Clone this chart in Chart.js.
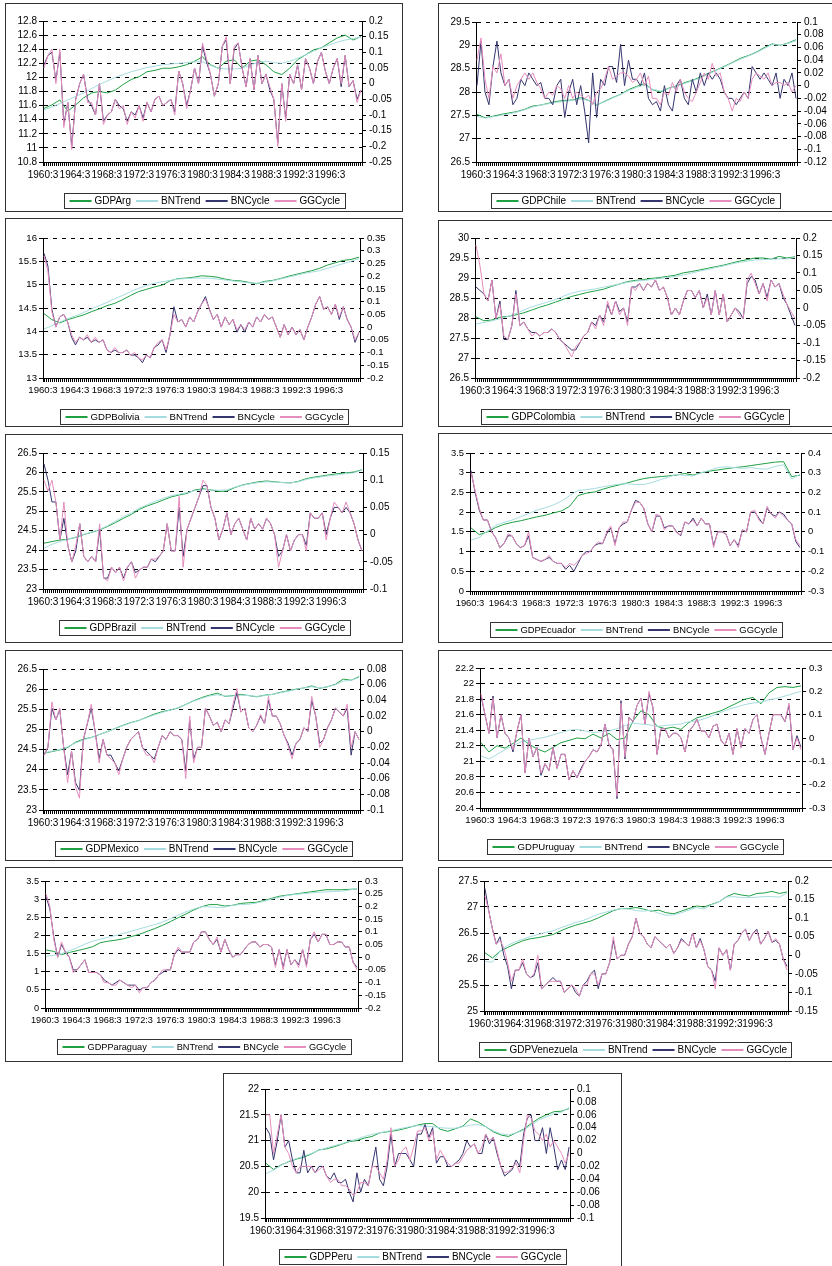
<!DOCTYPE html>
<html>
<head>
<meta charset="utf-8">
<script src="https://cdn.jsdelivr.net/npm/chart.js@4.4.1/dist/chart.umd.min.js"></script>
<style>
  body { margin: 0; background: #fff; width: 832px; height: 1266px; position: relative; overflow: hidden; }
  .panel { position: absolute; border: 1px solid #333; box-sizing: border-box; }
  .panel canvas { position: absolute; left: -1px; top: -1px; }
</style>
</head>
<body>
<script>
// Quarterly series, 1960:3 onwards (160 quarters)
const nQuarters = 160;
const tickEvery = 16;
const tickLabels = ['1960:3', '1964:3', '1968:3', '1972:3', '1976:3', '1980:3', '1984:3', '1988:3', '1992:3', '1996:3'];
const seriesNames = ['BNTrend', 'BNCycle', 'GGCycle'];

// Argentina
const argGDP = [11.56,11.61,11.68,11.52,11.61,11.71,11.78,11.8,11.78,11.82,11.9,11.97,12.01,12.08,12.1,12.13,12.13,12.15,12.18,12.23,12.29,12.18,12.13,12.23,12.25,12.13,12.23,12.25,12.18,12.08,12.04,12.13,12.25,12.32,12.39,12.42,12.49,12.56,12.6,12.53,12.58];
const argTrend = [11.54,11.58,11.63,11.68,11.73,11.78,11.84,11.9,11.95,12.0,12.04,12.08,12.11,12.14,12.16,12.18,12.19,12.2,12.21,12.22,12.22,12.17,12.13,12.12,12.12,12.13,12.18,12.21,12.23,12.21,12.2,12.23,12.27,12.32,12.37,12.42,12.46,12.5,12.53,12.55,12.57];
const argBN = [0.06,0.09,0.1,0.01,0.1,-0.13,-0.06,-0.2,-0.05,0.0,0.03,-0.05,-0.07,-0.1,0.0,-0.12,-0.1,-0.09,-0.05,-0.07,-0.08,-0.12,-0.09,-0.1,-0.07,-0.11,-0.06,-0.09,-0.05,-0.04,-0.07,-0.06,-0.05,-0.09,0.04,0.0,-0.07,-0.02,0.05,0.0,0.12,0.07,0.03,-0.04,0.0,0.12,0.14,0.0,0.11,0.13,0.05,-0.01,0.08,-0.02,0.09,0.0,0.03,-0.02,-0.05,-0.19,0.0,-0.11,0.03,0.0,0.06,-0.02,0.08,0.05,0.0,0.07,0.1,0.04,0.0,0.05,0.08,-0.01,0.09,-0.01,0.01,-0.05,-0.02];
const argGG = [0.05,0.09,0.11,0.0,0.11,-0.14,-0.06,-0.21,-0.05,0.0,0.03,-0.06,-0.06,-0.1,0.0,-0.13,-0.1,-0.09,-0.05,-0.08,-0.07,-0.13,-0.09,-0.11,-0.07,-0.12,-0.06,-0.09,-0.05,-0.04,-0.07,-0.06,-0.05,-0.1,0.04,0.0,-0.08,-0.02,0.05,0.0,0.13,0.08,0.03,-0.04,0.0,0.12,0.15,0.0,0.12,0.13,0.05,-0.01,0.08,-0.02,0.09,0.0,0.03,-0.01,-0.05,-0.2,0.0,-0.12,0.03,0.0,0.06,-0.02,0.08,0.05,0.0,0.07,0.1,0.04,0.0,0.05,0.08,0.0,0.09,-0.01,0.01,-0.06,-0.02];
const argLeft = [10.8, 12.8, 0.2];
const argRight = [-0.25, 0.2, 0.05];

// Chile
const chiGDP = [27.52,27.45,27.48,27.52,27.55,27.58,27.63,27.7,27.72,27.76,27.8,27.82,27.83,27.88,27.82,27.72,27.8,27.88,27.95,28.05,28.12,28.18,28.05,28.0,28.08,28.13,28.2,28.25,28.32,28.4,28.47,28.55,28.63,28.72,28.78,28.85,28.95,29.03,29.0,29.05,29.12];
const chiTrend = [27.48,27.44,27.47,27.5,27.53,27.57,27.62,27.68,27.72,27.75,27.78,27.8,27.82,27.85,27.82,27.73,27.79,27.87,27.95,28.03,28.1,28.15,28.06,28.02,28.07,28.12,28.18,28.24,28.3,28.38,28.46,28.54,28.62,28.7,28.77,28.84,28.93,29.02,29.0,29.04,29.1];
const chiBN = [0.0,0.07,-0.01,-0.03,0.03,0.07,0.02,0.0,0.01,-0.03,-0.02,0.01,0.0,0.02,0.01,0.0,0.005,-0.02,-0.02,-0.03,0.0,0.01,-0.05,-0.01,0.01,-0.03,0.0,-0.04,-0.09,0.02,-0.05,0.01,0.0,0.03,0.03,0.005,0.065,0.0,0.04,0.01,0.01,0.0,0.02,-0.02,-0.03,-0.025,-0.04,0.0,-0.03,-0.04,0.0,0.01,-0.02,-0.03,0.01,-0.01,0.02,0.0,0.02,0.01,0.02,0.01,-0.01,-0.02,-0.02,-0.03,-0.02,-0.01,-0.02,0.03,0.02,0.01,0.02,0.01,0.0,0.02,-0.02,0.01,0.0,0.02,-0.02];
const chiGG = [0.04,0.075,0.01,-0.02,0.03,0.02,0.05,0.0,0.01,-0.02,0.0,0.01,0.02,0.01,0.02,0.005,-0.005,-0.02,-0.01,-0.015,0.0,-0.005,-0.02,0.0,-0.02,-0.01,-0.015,-0.02,-0.015,-0.03,-0.01,-0.005,0.01,0.03,0.01,0.015,0.02,0.02,0.015,0.005,0.01,0.02,0.0,0.015,-0.02,-0.02,-0.03,-0.01,-0.015,0.005,-0.01,0.01,-0.01,-0.02,-0.025,-0.01,0.005,0.02,0.01,0.035,0.015,0.02,-0.01,-0.02,-0.04,-0.02,-0.025,-0.01,-0.02,0.01,0.02,0.015,0.01,0.02,0.0,0.005,0.005,0.0,0.005,-0.01,0.0];
const chiLeft = [26.5, 29.5, 0.5];
const chiRight = [-0.12, 0.1, 0.02];

// Bolivia
const bolGDP = [14.38,14.25,14.18,14.25,14.3,14.35,14.42,14.48,14.55,14.6,14.68,14.77,14.85,14.9,14.95,14.99,15.08,15.13,15.14,15.16,15.19,15.18,15.16,15.12,15.09,15.08,15.05,15.02,15.07,15.09,15.13,15.18,15.22,15.26,15.3,15.35,15.42,15.47,15.52,15.54,15.59];
const bolTrend = [14.05,14.12,14.2,14.27,14.33,14.4,14.48,14.55,14.62,14.7,14.77,14.85,14.92,14.98,15.03,15.06,15.09,15.12,15.13,15.14,15.14,15.14,15.12,15.1,15.08,15.06,15.04,15.03,15.05,15.08,15.12,15.16,15.2,15.24,15.27,15.3,15.35,15.4,15.45,15.5,15.56];
const bolBN = [0.29,0.24,0.07,0.0,0.04,0.05,0.02,-0.04,-0.07,-0.04,-0.05,-0.04,-0.06,-0.05,-0.06,-0.05,-0.09,-0.1,-0.09,-0.1,-0.1,-0.09,-0.11,-0.11,-0.12,-0.14,-0.11,-0.12,-0.08,-0.07,-0.05,-0.1,-0.03,0.08,0.02,0.03,0.0,0.04,0.02,0.06,0.09,0.12,0.07,0.03,0.05,0.0,0.04,0.01,0.03,-0.02,0.01,-0.02,0.02,0.0,0.04,0.02,0.05,0.03,0.04,0.0,-0.04,0.01,-0.03,0.0,-0.03,-0.01,-0.05,0.0,0.04,0.09,0.12,0.07,0.08,0.05,0.09,0.03,0.08,0.03,0.0,-0.06,-0.02];
const bolGG = [0.28,0.22,0.06,0.0,0.04,0.05,0.02,-0.03,-0.06,-0.04,-0.05,-0.03,-0.06,-0.04,-0.06,-0.05,-0.09,-0.1,-0.08,-0.1,-0.1,-0.09,-0.11,-0.1,-0.12,-0.13,-0.11,-0.12,-0.08,-0.06,-0.05,-0.09,-0.03,0.05,0.02,0.03,0.0,0.04,0.02,0.06,0.09,0.11,0.07,0.03,0.05,0.0,0.04,0.01,0.03,-0.01,0.01,-0.01,0.02,0.0,0.04,0.02,0.05,0.03,0.04,0.0,-0.04,0.01,-0.03,0.0,-0.03,-0.01,-0.05,0.0,0.04,0.09,0.12,0.07,0.08,0.05,0.09,0.04,0.08,0.03,0.0,-0.05,-0.02];
const bolLeft = [13, 16, 0.5];
const bolRight = [-0.2, 0.35, 0.05];

// Colombia
const colGDP = [28.03,27.93,27.95,28.02,28.04,28.08,28.13,28.2,28.27,28.33,28.4,28.47,28.54,28.59,28.64,28.68,28.72,28.79,28.85,28.91,28.94,28.96,28.99,29.01,29.04,29.07,29.13,29.16,29.2,29.24,29.28,29.32,29.37,29.42,29.46,29.5,29.5,29.47,29.54,29.5,29.53];
const colTrend = [27.85,27.89,27.93,27.98,28.04,28.11,28.2,28.28,28.34,28.4,28.46,28.55,28.62,28.67,28.7,28.73,28.77,28.81,28.85,28.89,28.92,28.94,28.96,28.99,29.01,29.04,29.08,29.12,29.17,29.21,29.26,29.3,29.35,29.39,29.42,29.45,29.46,29.47,29.48,29.48,29.51];
const colBN = [0.06,0.05,0.04,0.02,0.08,-0.03,0.02,-0.09,-0.09,-0.05,0.05,-0.05,-0.04,-0.06,-0.07,-0.07,-0.08,-0.07,-0.07,-0.06,-0.07,-0.09,-0.1,-0.11,-0.12,-0.12,-0.1,-0.08,-0.07,-0.04,-0.05,-0.02,-0.04,0.01,-0.02,0.02,-0.01,0.0,-0.04,0.06,0.06,0.07,0.05,0.07,0.06,0.08,0.05,0.06,0.03,-0.02,0.0,-0.02,0.02,0.05,0.05,0.03,0.05,0.0,0.04,-0.02,0.05,-0.02,0.04,-0.04,-0.02,0.0,-0.01,-0.03,0.07,0.09,0.08,0.04,0.07,0.03,0.08,0.06,0.07,0.03,0.01,-0.02,-0.05];
const colGG = [0.18,0.12,0.04,0.02,0.08,-0.03,0.01,-0.08,-0.09,-0.05,0.04,-0.05,-0.04,-0.06,-0.08,-0.07,-0.08,-0.07,-0.07,-0.06,-0.07,-0.09,-0.1,-0.12,-0.14,-0.11,-0.1,-0.08,-0.07,-0.04,-0.06,-0.02,-0.05,0.02,-0.02,0.02,-0.02,0.0,-0.05,0.06,0.05,0.07,0.05,0.07,0.06,0.08,0.05,0.06,0.03,-0.02,0.0,-0.02,0.02,0.05,0.05,0.03,0.05,0.0,0.03,-0.02,0.05,-0.02,0.04,-0.04,-0.02,0.0,-0.02,-0.03,0.08,0.1,0.07,0.04,0.07,0.02,0.08,0.06,0.07,0.04,0.01,-0.01,-0.03];
const colLeft = [26.5, 30, 0.5];
const colRight = [-0.2, 0.2, 0.05];

// Brazil
const braGDP = [24.18,24.22,24.26,24.28,24.33,24.4,24.46,24.52,24.61,24.71,24.82,24.92,25.05,25.14,25.21,25.29,25.37,25.42,25.46,25.55,25.58,25.55,25.51,25.52,25.61,25.68,25.72,25.76,25.78,25.76,25.74,25.73,25.77,25.84,25.88,25.91,25.94,25.97,25.99,26.01,26.07];
const braTrend = [24.05,24.15,24.22,24.28,24.34,24.4,24.47,24.53,24.63,24.75,24.86,24.96,25.08,25.17,25.26,25.33,25.4,25.44,25.48,25.53,25.56,25.55,25.54,25.55,25.62,25.67,25.71,25.74,25.76,25.75,25.74,25.73,25.76,25.82,25.86,25.89,25.92,25.94,25.97,25.99,26.06];
const braBN = [0.13,0.1,0.06,0.06,-0.01,0.03,-0.02,-0.05,-0.03,0.02,-0.04,-0.05,-0.04,-0.05,0.01,-0.08,-0.08,-0.06,-0.07,-0.06,-0.08,-0.06,-0.05,-0.07,-0.065,-0.06,-0.06,-0.045,-0.05,-0.04,-0.03,0.02,-0.03,-0.03,0.05,-0.04,0.01,0.03,0.05,0.07,0.09,0.09,0.05,0.03,-0.01,0.01,0.04,0.0,0.02,0.03,0.01,-0.01,0.03,0.01,0.02,0.01,0.03,0.02,0.0,-0.04,-0.03,0.0,-0.03,-0.01,0.0,0.0,-0.02,0.04,0.03,0.03,0.04,0.0,0.03,0.05,0.05,0.04,0.05,0.04,0.02,-0.01,-0.03];
const braGG = [0.1,0.08,0.1,0.06,-0.01,0.06,-0.02,-0.05,-0.02,0.02,-0.04,-0.05,-0.04,-0.05,0.02,-0.08,-0.085,-0.06,-0.07,-0.06,-0.085,-0.06,-0.05,-0.08,-0.065,-0.06,-0.06,-0.045,-0.045,-0.04,-0.03,0.02,-0.03,-0.03,0.07,-0.06,0.01,0.03,0.05,0.07,0.1,0.09,0.05,0.03,-0.01,0.01,0.04,0.0,0.02,0.03,0.01,-0.01,0.03,0.01,0.02,0.01,0.03,0.02,0.0,-0.06,-0.03,0.0,-0.03,-0.01,0.0,0.0,-0.03,0.04,0.03,0.03,0.04,-0.01,0.03,0.06,0.05,0.04,0.06,0.04,0.02,-0.01,-0.03];
const braLeft = [23, 26.5, 0.5];
const braRight = [-0.1, 0.15, 0.05];

// Ecuador
const ecuGDP = [1.6,1.43,1.5,1.61,1.69,1.74,1.78,1.83,1.88,1.92,1.98,2.03,2.15,2.42,2.48,2.51,2.58,2.64,2.69,2.74,2.8,2.85,2.88,2.9,2.92,2.94,2.98,2.94,3.0,3.04,3.07,3.1,3.13,3.15,3.18,3.21,3.24,3.27,3.28,2.9,2.94];
const ecuTrend = [1.29,1.36,1.52,1.66,1.74,1.8,1.88,1.96,2.05,2.11,2.18,2.28,2.42,2.55,2.57,2.6,2.64,2.68,2.71,2.72,2.7,2.7,2.75,2.82,2.89,2.96,2.93,2.92,3.0,3.06,3.13,3.15,3.13,3.11,3.13,3.1,3.09,3.16,3.2,2.84,2.96];
const ecuBN = [0.31,0.2,0.11,0.06,0.06,0.0,-0.03,-0.08,-0.06,-0.02,-0.02,-0.06,-0.08,-0.07,-0.02,-0.13,-0.14,-0.15,-0.14,-0.13,-0.15,-0.16,-0.16,-0.19,-0.17,-0.2,-0.16,-0.12,-0.1,-0.1,-0.07,-0.06,-0.06,-0.01,0.02,-0.06,0.02,0.04,0.05,0.11,0.16,0.15,0.12,0.04,0.0,0.08,0.08,0.02,0.03,0.03,0.0,-0.02,0.05,0.04,0.07,0.03,0.07,0.04,0.04,-0.07,0.0,0.0,-0.01,-0.07,-0.04,-0.07,0.01,0.0,0.1,0.1,0.07,0.04,0.12,0.09,0.08,0.1,0.09,0.06,0.04,-0.05,-0.08];
const ecuGG = [0.3,0.21,0.12,0.06,0.06,0.0,-0.03,-0.08,-0.06,-0.01,-0.02,-0.06,-0.08,-0.07,0.0,-0.13,-0.14,-0.15,-0.14,-0.12,-0.15,-0.16,-0.16,-0.18,-0.16,-0.17,-0.15,-0.12,-0.11,-0.1,-0.07,-0.05,-0.06,0.0,0.03,-0.07,0.02,0.05,0.05,0.11,0.15,0.15,0.12,0.04,0.0,0.09,0.08,0.01,0.03,0.03,-0.005,-0.015,0.05,0.04,0.06,0.03,0.07,0.04,0.04,-0.08,0.0,0.0,-0.01,-0.07,-0.04,-0.08,0.01,0.0,0.1,0.11,0.06,0.04,0.13,0.09,0.07,0.1,0.08,0.06,0.04,-0.04,-0.07];
const ecuLeft = [0, 3.5, 0.5];
const ecuRight = [-0.3, 0.4, 0.1];

// Mexico
const mexGDP = [24.41,24.45,24.49,24.55,24.68,24.76,24.8,24.87,24.94,25.02,25.1,25.17,25.22,25.3,25.38,25.44,25.48,25.53,25.62,25.71,25.79,25.85,25.9,25.82,25.84,25.87,25.84,25.81,25.85,25.87,25.92,25.96,26.0,26.03,26.08,26.02,26.06,26.12,26.25,26.22,26.31];
const mexTrend = [24.42,24.46,24.5,24.57,24.66,24.74,24.8,24.87,24.94,25.02,25.09,25.16,25.22,25.29,25.36,25.42,25.48,25.54,25.62,25.7,25.77,25.83,25.86,25.83,25.83,25.85,25.84,25.82,25.84,25.87,25.91,25.95,25.99,26.03,26.06,26.03,26.06,26.11,26.2,26.22,26.29];
const mexBN = [-0.03,-0.02,0.03,0.015,0.028,-0.02,-0.055,-0.025,-0.065,-0.075,-0.01,0.01,0.03,0.0,-0.035,-0.01,-0.03,-0.03,-0.04,-0.05,-0.035,-0.02,-0.01,-0.005,0.0,-0.02,-0.025,-0.03,-0.035,-0.02,-0.005,-0.01,0.0,-0.005,-0.005,-0.01,-0.05,0.015,-0.035,-0.02,-0.02,0.03,0.02,0.008,0.012,0.0,0.015,0.01,0.03,0.05,0.025,0.03,0.005,0.0,0.008,0.02,0.01,0.04,0.02,0.02,0.01,-0.005,-0.015,-0.03,-0.015,-0.01,0.005,0.0,0.04,0.02,-0.015,-0.01,0.005,0.015,0.03,0.025,0.02,0.03,-0.03,0.0,-0.01];
const mexGG = [-0.03,-0.02,0.038,0.015,0.03,-0.02,-0.065,-0.025,-0.07,-0.085,-0.01,0.01,0.035,0.0,-0.04,-0.01,-0.03,-0.035,-0.04,-0.055,-0.035,-0.02,-0.01,-0.005,0.0,-0.02,-0.03,-0.03,-0.04,-0.02,-0.005,-0.01,0.0,-0.005,-0.005,-0.01,-0.06,0.02,-0.04,-0.02,-0.02,0.03,0.02,0.008,0.012,0.0,0.015,0.01,0.035,0.055,0.025,0.03,0.005,0.0,0.008,0.022,0.01,0.045,0.02,0.02,0.01,-0.005,-0.018,-0.035,-0.015,-0.01,0.005,0.0,0.045,0.02,-0.02,-0.01,0.005,0.015,0.03,0.025,0.02,0.035,-0.02,0.0,-0.01];
const mexLeft = [23, 26.5, 0.5];
const mexRight = [-0.1, 0.08, 0.02];

// Uruguay
const uruGDP = [21.24,21.12,21.2,21.17,21.23,21.3,21.22,21.16,21.12,21.18,21.24,21.27,21.3,21.29,21.35,21.3,21.36,21.28,21.3,21.52,21.65,21.6,21.45,21.42,21.44,21.41,21.5,21.56,21.59,21.62,21.65,21.7,21.75,21.8,21.82,21.74,21.88,21.95,21.96,21.95,21.97];
const uruTrend = [21.07,21.03,21.09,21.15,21.2,21.25,21.27,21.29,21.31,21.34,21.37,21.4,21.41,21.39,21.37,21.38,21.39,21.42,21.46,21.49,21.48,21.47,21.45,21.46,21.47,21.48,21.51,21.52,21.55,21.59,21.63,21.67,21.7,21.73,21.75,21.76,21.79,21.81,21.84,21.87,21.9];
const uruBN = [0.18,0.1,0.02,0.18,0.0,0.1,0.02,0.0,-0.06,0.03,0.1,-0.15,0.0,-0.08,-0.04,-0.16,-0.11,-0.14,-0.04,-0.13,-0.07,-0.07,-0.18,-0.14,-0.17,-0.13,-0.1,-0.08,-0.05,-0.06,-0.03,0.06,-0.03,-0.05,-0.26,0.16,-0.09,0.09,0.07,0.14,0.17,0.06,0.19,0.13,-0.07,0.04,0.04,0.0,0.02,0.02,0.0,-0.06,0.03,0.05,0.08,0.03,0.03,0.0,0.05,0.06,-0.01,-0.03,0.02,-0.07,0.04,-0.04,0.04,0.02,0.08,0.1,0.0,-0.07,0.02,0.1,0.1,0.1,0.07,0.14,-0.05,0.01,-0.04];
const uruGG = [0.19,0.1,0.02,0.17,0.0,0.1,0.02,0.0,-0.05,0.03,0.1,-0.15,0.0,-0.08,-0.04,-0.15,-0.11,-0.14,-0.04,-0.13,-0.07,-0.07,-0.18,-0.14,-0.17,-0.14,-0.1,-0.08,-0.05,-0.06,-0.03,0.06,-0.03,-0.05,-0.25,0.15,-0.08,0.09,0.07,0.14,0.17,0.06,0.2,0.13,-0.07,0.04,0.04,0.0,0.02,0.02,0.0,-0.06,0.03,0.05,0.08,0.03,0.03,0.0,0.05,0.06,-0.01,-0.03,0.02,-0.07,0.04,-0.04,0.04,0.02,0.08,0.1,0.0,-0.07,0.02,0.1,0.1,0.1,0.07,0.15,-0.05,0.0,-0.05];
const uruLeft = [20.4, 22.2, 0.2];
const uruRight = [-0.3, 0.3, 0.1];

// Paraguay
const parGDP = [1.6,1.56,1.47,1.53,1.58,1.63,1.69,1.8,1.84,1.87,1.91,1.97,2.03,2.11,2.19,2.28,2.38,2.49,2.59,2.7,2.79,2.85,2.85,2.81,2.83,2.88,2.9,2.91,2.96,3.02,3.08,3.11,3.14,3.17,3.2,3.23,3.26,3.26,3.26,3.27,3.28];
const parTrend = [1.43,1.45,1.5,1.58,1.66,1.76,1.84,1.9,1.95,2.0,2.06,2.12,2.18,2.24,2.3,2.37,2.46,2.56,2.65,2.73,2.79,2.79,2.77,2.78,2.83,2.85,2.86,2.89,2.94,3.0,3.05,3.1,3.13,3.15,3.17,3.19,3.2,3.21,3.22,3.25,3.29];
const parBN = [0.24,0.19,0.08,0.0,0.05,0.02,0.0,-0.05,-0.05,-0.03,-0.01,-0.06,-0.06,-0.06,-0.07,-0.09,-0.1,-0.11,-0.1,-0.09,-0.1,-0.11,-0.11,-0.11,-0.13,-0.12,-0.12,-0.1,-0.09,-0.07,-0.06,-0.05,-0.05,0.01,0.03,0.02,0.02,0.02,0.06,0.07,0.1,0.1,0.07,0.05,0.07,0.02,0.07,0.03,0.0,0.01,0.01,0.03,0.05,0.06,0.06,0.04,0.05,0.05,0.04,-0.03,0.03,-0.04,0.03,-0.03,-0.01,-0.03,0.03,-0.03,0.07,0.09,0.06,0.09,0.09,0.05,0.05,0.06,0.06,0.04,0.04,-0.02,-0.04];
const parGG = [0.25,0.2,0.07,0.0,0.06,0.02,0.0,-0.06,-0.05,-0.03,-0.01,-0.06,-0.06,-0.06,-0.07,-0.1,-0.1,-0.11,-0.11,-0.09,-0.1,-0.11,-0.12,-0.11,-0.14,-0.12,-0.12,-0.1,-0.09,-0.07,-0.05,-0.05,-0.05,0.01,0.04,0.02,0.02,0.02,0.06,0.07,0.1,0.1,0.07,0.05,0.08,0.02,0.07,0.03,0.0,0.01,0.01,0.03,0.05,0.06,0.06,0.04,0.05,0.05,0.04,-0.04,0.03,-0.05,0.03,-0.03,-0.01,-0.04,0.03,-0.04,0.07,0.1,0.06,0.09,0.09,0.05,0.05,0.06,0.06,0.04,0.04,-0.02,-0.05];
const parLeft = [0, 3.5, 0.5];
const parRight = [-0.2, 0.3, 0.05];

// Venezuela
const venGDP = [26.12,26.02,26.15,26.22,26.29,26.35,26.39,26.41,26.44,26.47,26.54,26.6,26.65,26.69,26.73,26.79,26.86,26.93,26.97,26.97,26.99,26.96,26.92,26.94,26.89,26.87,26.92,26.97,27.02,27.0,27.05,27.1,27.2,27.26,27.23,27.21,27.26,27.27,27.3,27.26,27.29];
const venTrend = [25.95,25.94,26.15,26.26,26.33,26.38,26.43,26.47,26.51,26.54,26.6,26.65,26.7,26.74,26.8,26.86,26.9,26.94,26.97,26.96,26.93,26.92,26.94,26.88,26.84,26.85,26.89,26.94,26.99,26.96,27.04,27.1,27.19,27.2,27.18,27.18,27.19,27.2,27.2,27.19,27.27];
const venBN = [0.18,0.12,0.07,0.03,0.05,0.0,-0.03,-0.09,-0.04,-0.04,-0.02,-0.05,-0.06,-0.055,-0.02,-0.09,-0.08,-0.07,-0.06,-0.07,-0.07,-0.1,-0.09,-0.08,-0.1,-0.11,-0.08,-0.07,-0.05,-0.04,-0.09,-0.05,-0.05,-0.02,0.04,-0.01,0.0,0.0,0.03,0.05,0.1,0.06,0.05,0.03,0.02,0.05,0.04,0.03,0.02,0.03,0.005,0.02,0.045,0.035,0.025,0.06,0.02,0.045,0.015,-0.03,-0.04,-0.07,0.02,0.0,0.015,-0.04,0.03,0.04,0.06,0.07,0.04,0.06,0.07,0.03,0.045,0.065,0.035,0.04,0.03,-0.01,-0.03];
const venGG = [0.16,0.12,0.07,0.03,0.04,0.02,-0.02,-0.07,-0.04,-0.04,-0.01,-0.05,-0.06,-0.05,0.0,-0.09,-0.08,-0.07,-0.07,-0.07,-0.07,-0.1,-0.09,-0.08,-0.09,-0.11,-0.08,-0.08,-0.05,-0.05,-0.08,-0.05,-0.05,-0.02,0.05,-0.01,0.0,0.0,0.03,0.05,0.1,0.06,0.05,0.03,0.02,0.05,0.04,0.03,0.02,0.03,0.005,0.02,0.04,0.035,0.025,0.06,0.02,0.04,0.015,-0.03,-0.04,-0.09,0.02,0.0,0.015,-0.04,0.03,0.04,0.06,0.07,0.04,0.06,0.065,0.03,0.045,0.065,0.035,0.045,0.03,-0.01,-0.04];
const venLeft = [25, 27.5, 0.5];
const venRight = [-0.15, 0.2, 0.05];

// Peru
const perGDP = [20.56,20.44,20.53,20.59,20.64,20.68,20.74,20.82,20.84,20.88,20.93,20.98,21.0,21.05,21.08,21.15,21.17,21.19,21.22,21.26,21.3,21.33,21.33,21.22,21.18,21.23,21.28,21.42,21.36,21.27,21.17,21.11,21.08,21.15,21.22,21.33,21.43,21.5,21.56,21.57,21.62];
const perTrend = [20.36,20.43,20.52,20.6,20.65,20.7,20.75,20.81,20.86,20.9,20.94,20.99,21.03,21.08,21.12,21.15,21.18,21.21,21.24,21.27,21.29,21.28,21.27,21.25,21.24,21.24,21.27,21.3,21.31,21.27,21.19,21.13,21.11,21.15,21.2,21.3,21.4,21.46,21.52,21.55,21.64];
const perBN = [0.04,0.03,-0.01,0.02,0.06,0.01,0.02,-0.01,-0.03,-0.03,0.005,-0.03,-0.02,-0.03,-0.02,-0.02,-0.035,-0.04,-0.03,-0.045,-0.045,-0.04,-0.06,-0.075,-0.03,-0.06,-0.04,-0.05,-0.02,0.01,-0.04,-0.05,-0.02,0.03,-0.02,0.0,0.0,0.0,-0.01,-0.02,0.03,0.03,0.045,0.025,0.04,-0.015,-0.005,-0.005,-0.02,-0.02,-0.015,-0.01,0.0,0.02,0.01,0.015,0.0,0.0,0.03,0.015,0.025,0.0,-0.02,-0.035,-0.03,-0.025,-0.01,-0.02,0.03,0.055,0.06,0.02,0.02,0.04,0.0,0.04,0.01,-0.025,-0.01,-0.025,0.01];
const perGG = [0.06,0.06,0.0,0.03,0.06,0.01,0.0,-0.02,-0.03,-0.02,-0.02,-0.02,-0.02,-0.03,-0.025,-0.02,-0.035,-0.045,-0.04,-0.04,-0.05,-0.05,-0.055,-0.065,-0.06,-0.045,-0.045,-0.05,-0.02,-0.02,-0.03,-0.04,-0.01,0.04,-0.02,-0.01,0.005,0.01,-0.01,0.01,0.035,0.035,0.04,0.02,0.035,-0.01,0.005,-0.005,-0.015,-0.02,-0.015,-0.015,-0.005,0.005,0.01,0.015,0.0,0.01,0.03,0.02,0.025,0.005,-0.02,-0.03,-0.028,-0.022,-0.015,-0.03,0.02,0.06,0.055,0.035,0.03,0.02,0.03,0.01,0.02,0.01,0.0,-0.015,0.0];
const perLeft = [19.5, 22, 0.5];
const perRight = [-0.1, 0.1, 0.02];

const colors = { gdp: '#1fa043', trend: '#a6dcdf', bn: '#35356f', gg: '#e58dbd' };

// box: panel rect [x, y, w, h]; plot: insets [left, right, top, bottom]; fs: text size
const panels = [
  { name: 'GDPArg',       gdp: argGDP, trend: argTrend, bn: argBN, gg: argGG, left: argLeft, right: argRight, box: [5, 3, 398, 209],     plot: [38, 41, 18, 50], fs: 10 },
  { name: 'GDPChile',     gdp: chiGDP, trend: chiTrend, bn: chiBN, gg: chiGG, left: chiLeft, right: chiRight, box: [438, 3, 395, 209],   plot: [38, 36, 19, 50], fs: 10 },
  { name: 'GDPBolivia',   gdp: bolGDP, trend: bolTrend, bn: bolBN, gg: bolGG, left: bolLeft, right: bolRight, box: [5, 218, 398, 209],   plot: [38, 43, 20, 49], fs: 9.6 },
  { name: 'GDPColombia',  gdp: colGDP, trend: colTrend, bn: colBN, gg: colGG, left: colLeft, right: colRight, box: [438, 220, 395, 207], plot: [37, 37, 18, 49], fs: 10 },
  { name: 'GDPBrazil',    gdp: braGDP, trend: braTrend, bn: braBN, gg: braGG, left: braLeft, right: braRight, box: [5, 434, 398, 209],   plot: [38, 40, 19, 54], fs: 10 },
  { name: 'GDPEcuador',   gdp: ecuGDP, trend: ecuTrend, bn: ecuBN, gg: ecuGG, left: ecuLeft, right: ecuRight, box: [438, 433, 395, 210], plot: [32, 32, 20, 52], fs: 9.4 },
  { name: 'GDPMexico',    gdp: mexGDP, trend: mexTrend, bn: mexBN, gg: mexGG, left: mexLeft, right: mexRight, box: [5, 650, 398, 211],   plot: [38, 43, 19, 51], fs: 10 },
  { name: 'GDPUruguay',   gdp: uruGDP, trend: uruTrend, bn: uruBN, gg: uruGG, left: uruLeft, right: uruRight, box: [438, 650, 395, 211], plot: [42, 31, 18, 53], fs: 9.6 },
  { name: 'GDPParaguay',  gdp: parGDP, trend: parTrend, bn: parBN, gg: parGG, left: parLeft, right: parRight, box: [5, 867, 398, 195],   plot: [40, 45, 14, 54], fs: 9.2 },
  { name: 'GDPVenezuela', gdp: venGDP, trend: venTrend, bn: venBN, gg: venGG, left: venLeft, right: venRight, box: [438, 867, 395, 195], plot: [46, 45, 14, 51], fs: 10 },
  { name: 'GDPPeru',      gdp: perGDP, trend: perTrend, bn: perBN, gg: perGG, left: perLeft, right: perRight, box: [223, 1073, 399, 195], plot: [42, 52, 16, 50], fs: 10 }
];

Chart.defaults.font.family = "'Liberation Sans', Arial, Helvetica, sans-serif";
Chart.defaults.font.size = 10;
Chart.defaults.color = '#000';

// spread a series evenly over the quarter axis
function toPoints(arr) {
  const step = (nQuarters - 1) / (arr.length - 1);
  return arr.map((v, i) => ({ x: i * step, y: v }));
}

function fmt(v) {
  return String(+(+v).toFixed(4));
}

// Excel-style legend: a framed row of line samples under the x labels
const boxLegend = {
  id: 'boxLegend',
  afterDraw(chart, args, opts) {
    const ctx = chart.ctx;
    ctx.save();
    ctx.font = opts.size + "px 'Liberation Sans', Arial, sans-serif";
    const items = chart.data.datasets.map(d => ({ text: d.label, color: d.borderColor, w: ctx.measureText(d.label).width }));
    const sample = 22, gap = 3, space = 5, pad = 5, h = 15;
    const total = items.reduce((a, it) => a + sample + gap + it.w, 0) + space * (items.length - 1) + pad * 2;
    const x0 = Math.round((chart.width - total) / 2) + 0.5;
    const top = Math.round(chart.chartArea.bottom + 31) + 0.5;
    ctx.strokeStyle = '#333';
    ctx.lineWidth = 1;
    ctx.strokeRect(x0, top, Math.round(total), h);
    let cx = x0 + pad;
    const mid = top + h / 2;
    items.forEach(it => {
      ctx.strokeStyle = it.color;
      ctx.lineWidth = 2;
      ctx.beginPath();
      ctx.moveTo(cx, mid);
      ctx.lineTo(cx + sample, mid);
      ctx.stroke();
      ctx.fillStyle = '#000';
      ctx.textBaseline = 'middle';
      ctx.fillText(it.text, cx + sample + gap, mid + 0.5);
      cx += sample + gap + it.w + space;
    });
    ctx.restore();
  }
};

function line(label, data, color, axis, order) {
  return {
    label: label, data: toPoints(data), yAxisID: axis, order: order,
    borderColor: color, backgroundColor: color, borderWidth: 1,
    pointRadius: 0, tension: 0, fill: false
  };
}

panels.forEach(p => {
  const [bx, by, bw, bh] = p.box;
  const [L, R, T, B] = p.plot;
  const xAxisH = 20;
  const font = { size: p.fs };

  const div = document.createElement('div');
  div.className = 'panel';
  div.style.left = bx + 'px';
  div.style.top = by + 'px';
  div.style.width = bw + 'px';
  div.style.height = bh + 'px';
  const cv = document.createElement('canvas');
  cv.width = bw;
  cv.height = bh;
  div.appendChild(cv);
  document.body.appendChild(div);

  new Chart(cv, {
    type: 'line',
    data: {
      datasets: [
        line(p.name, p.gdp, colors.gdp, 'y', 3),
        line(seriesNames[0], p.trend, colors.trend, 'y', 2),
        line(seriesNames[1], p.bn, colors.bn, 'y2', 1),
        line(seriesNames[2], p.gg, colors.gg, 'y2', 0)
      ]
    },
    options: {
      responsive: false,
      animation: false,
      devicePixelRatio: 1,
      layout: { padding: { left: 0, right: 0, top: T, bottom: B - xAxisH } },
      plugins: { legend: { display: false }, tooltip: { enabled: false }, boxLegend: { size: p.fs } },
      scales: {
        x: {
          type: 'linear', min: -0.5, max: nQuarters - 0.5,
          afterFit: s => { s.height = xAxisH; },
          ticks: {
            stepSize: 1, autoSkip: false, maxRotation: 0, minRotation: 0, padding: 3, font: font,
            callback: v => {
              const q = Math.round(v + 0.5);
              return (Math.abs(v + 0.5 - q) < 1e-6 && q % tickEvery === 0) ? (tickLabels[q / tickEvery] || '') : '';
            }
          },
          grid: { drawOnChartArea: false, tickLength: 4, color: '#000' },
          border: { color: '#000' }
        },
        y: {
          position: 'left', min: p.left[0], max: p.left[1],
          afterFit: s => { s.width = L; },
          ticks: { stepSize: p.left[2], autoSkip: false, padding: 2, callback: fmt, font: font },
          grid: { color: '#000', tickLength: 4, tickBorderDash: [] },
          border: { color: '#000', dash: [4, 5] }
        },
        y2: {
          position: 'right', min: p.right[0], max: p.right[1],
          afterFit: s => { s.width = R; },
          ticks: { stepSize: p.right[2], autoSkip: false, padding: 3, callback: fmt, font: font },
          grid: { drawOnChartArea: false, tickLength: 4, color: '#000' },
          border: { color: '#000' }
        }
      }
    },
    plugins: [boxLegend]
  });
});
</script>
</body>
</html>
